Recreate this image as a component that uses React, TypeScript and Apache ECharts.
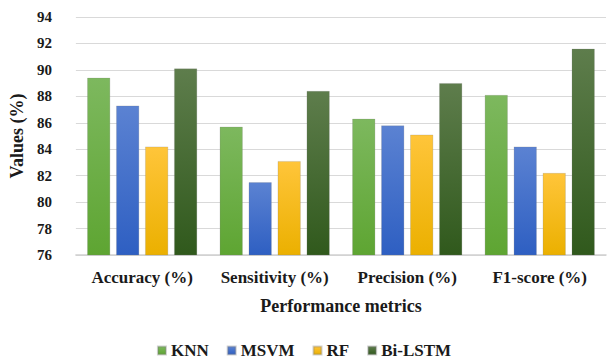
import React, { useEffect, useRef } from "react";
import * as echarts from "echarts";

const categories = ["Accuracy (%)", "Sensitivity (%)", "Precision (%)", "F1-score (%)"];
const knn = [89.4, 85.7, 86.3, 88.1];
const msvm = [87.3, 81.5, 85.8, 84.2];
const rf = [84.2, 83.1, 85.1, 82.2];
const biLstm = [90.1, 88.4, 89.0, 91.6];

const FONT = "Liberation Serif, Times New Roman, serif";
const INK = "#1a1a1a";

function grad(top: string, bottom: string) {
  return new echarts.graphic.LinearGradient(0, 0, 0, 1, [
    { offset: 0, color: top },
    { offset: 1, color: bottom },
  ]);
}

function bar(name: string, data: number[], top: string, bottom: string, legendColor: string) {
  return {
    name,
    type: "bar",
    data,
    barWidth: 23,
    barGap: "26%",
    color: legendColor,
    itemStyle: {
      color: grad(top, bottom),
      borderColor: "rgba(120,120,120,0.35)",
      borderWidth: 0.6,
    },
  };
}

export default function App() {
  const ref = useRef<HTMLDivElement>(null);
  useEffect(() => {
    if (!ref.current) return;
    const chart = echarts.init(ref.current, null, { renderer: "svg" });
    chart.setOption({
      animation: false,
      backgroundColor: "#ffffff",
      grid: { left: 72, right: 2, top: 17, bottom: 109 },
      legend: {
        top: 340,
        left: "center",
        padding: 2,
        itemWidth: 8,
        itemHeight: 8,
        itemGap: 18,
        icon: "rect",
        textStyle: { fontFamily: FONT, fontWeight: "bold", fontSize: 17, color: INK },
        data: ["KNN", "MSVM", "RF", "Bi-LSTM"],
      },
      xAxis: {
        type: "category",
        data: categories,
        name: "Performance metrics",
        nameLocation: "middle",
        nameGap: 42,
        nameTextStyle: { fontFamily: FONT, fontWeight: "bold", fontSize: 18, color: INK },
        axisLine: { lineStyle: { color: "#d0d0d0", width: 1.5 } },
        axisTick: { show: false },
        axisLabel: {
          interval: 0,
          hideOverlap: false,
          fontFamily: FONT,
          fontWeight: "bold",
          fontSize: 17,
          color: INK,
          margin: 14,
        },
      },
      yAxis: {
        type: "value",
        min: 76,
        max: 94,
        interval: 2,
        name: "Values (%)",
        nameLocation: "middle",
        nameGap: 36,
        nameTextStyle: { fontFamily: FONT, fontWeight: "bold", fontSize: 18, color: INK },
        axisLine: { show: false },
        axisTick: { show: false },
        axisLabel: { fontFamily: FONT, fontWeight: "bold", fontSize: 15, color: INK, margin: 24 },
        splitLine: { lineStyle: { color: "#d9d9d9", width: 1 } },
      },
      series: [
        bar("KNN", knn, "#7db85e", "#5ea532", "#70ad47"),
        bar("MSVM", msvm, "#5b82d2", "#2e5fc2", "#4472c4"),
        bar("RF", rf, "#ffc53a", "#ebb000", "#ffc000"),
        bar("Bi-LSTM", biLstm, "#5e7d4c", "#30591c", "#3d6b27"),
      ],
    });
    return () => chart.dispose();
  }, []);
  return <div ref={ref} style={{ width: 608, height: 364, position: "absolute", left: 0, top: 0 }} />;
}
